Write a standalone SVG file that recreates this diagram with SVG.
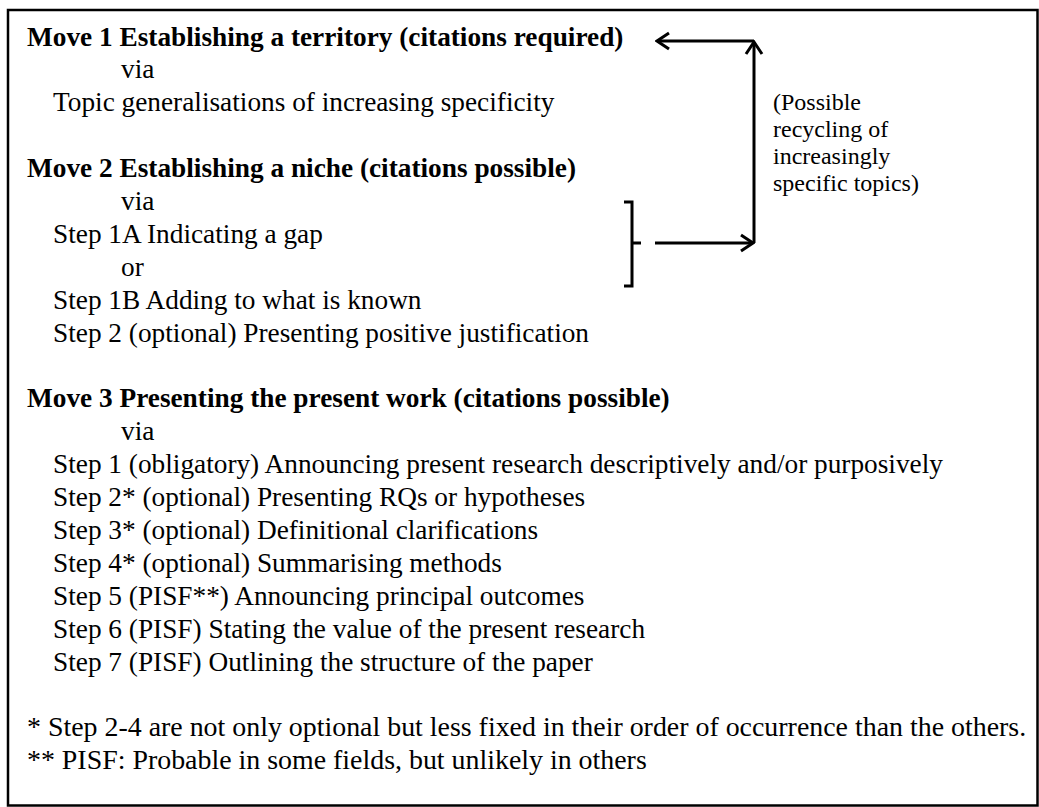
<svg xmlns="http://www.w3.org/2000/svg" width="1039" height="807" viewBox="0 0 1039 807">
<style>
text{font-family:"Liberation Serif","Times New Roman",serif;font-size:27.3px;fill:#000}
.b{font-weight:bold}
.fn{font-size:27.9px}
.side{font-size:24px}
.ln{fill:none;stroke:#000;stroke-width:3}
</style>
<defs>
<marker id="ah" markerUnits="userSpaceOnUse" markerWidth="16" markerHeight="20" viewBox="0 0 16 20" refX="14" refY="10" orient="auto">
<path d="M2,2 L14,10 L2,18" fill="none" stroke="#000" stroke-width="3"/>
</marker>
</defs>
<rect x="8" y="10" width="1029.5" height="795.5" fill="#fff" stroke="#000" stroke-width="2.5"/>
<g id="move1">
<text class="b" x="27" y="45.5">Move 1 Establishing a territory (citations required)</text>
<text x="121" y="78.4">via</text>
<text x="53" y="111.3">Topic generalisations of increasing specificity</text>
</g>
<g id="move2">
<text class="b" x="27" y="177.1">Move 2 Establishing a niche (citations possible)</text>
<text x="121" y="210">via</text>
<text x="53" y="242.9">Step 1A Indicating a gap</text>
<text x="121" y="275.8">or</text>
<text x="53" y="308.7">Step 1B Adding to what is known</text>
<text x="53" y="341.6">Step 2 (optional) Presenting positive justification</text>
</g>
<g id="move3">
<text class="b" x="27" y="407.4">Move 3 Presenting the present work (citations possible)</text>
<text x="121" y="440.3">via</text>
<text x="53" y="473.2">Step 1 (obligatory) Announcing present research descriptively and/or purposively</text>
<text x="53" y="506.1">Step 2* (optional) Presenting RQs or hypotheses</text>
<text x="53" y="539">Step 3* (optional) Definitional clarifications</text>
<text x="53" y="571.9">Step 4* (optional) Summarising methods</text>
<text x="53" y="604.8">Step 5 (PISF**) Announcing principal outcomes</text>
<text x="53" y="637.7">Step 6 (PISF) Stating the value of the present research</text>
<text x="53" y="670.6">Step 7 (PISF) Outlining the structure of the paper</text>
</g>
<g id="notes">
<text class="fn" x="27" y="736.4">* Step 2-4 are not only optional but less fixed in their order of occurrence than the others.</text>
<text class="fn" x="27" y="769.3">** PISF: Probable in some fields, but unlikely in others</text>
</g>
<g id="recycle-label">
<text class="side" x="773" y="110">(Possible</text>
<text class="side" x="773" y="137">recycling of</text>
<text class="side" x="773" y="164">increasingly</text>
<text class="side" x="773" y="191">specific topics)</text>
</g>
<g id="connectors">
<path class="ln" d="M624,202 H632 V286 H624 M632,243 H641"/>
<path class="ln" d="M655,243 H753" marker-end="url(#ah)"/>
<path class="ln" d="M754,243 V42" marker-end="url(#ah)"/>
<path class="ln" d="M754,41 H657" marker-end="url(#ah)"/>
</g>
</svg>
